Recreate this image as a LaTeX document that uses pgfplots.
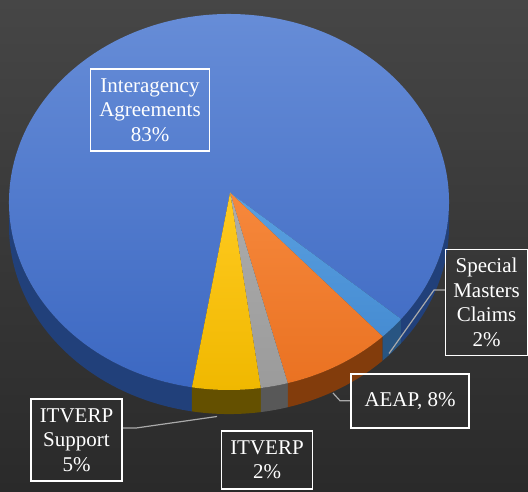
\documentclass[border=0pt]{standalone}
\usepackage{pgfplots}
\pgfplotsset{compat=1.18}
\usepackage{pgfplotstable}
\usepackage{fontspec}
\setmainfont{Liberation Serif}

\definecolor{bgtop}{RGB}{70,70,70}
\definecolor{bgmid}{RGB}{62,62,62}
\definecolor{bgbot}{RGB}{42,42,42}
\definecolor{iaT}{RGB}{104,142,216}
\definecolor{iaB}{RGB}{60,104,194}
\definecolor{iaS}{RGB}{33,64,122}
\definecolor{smT}{RGB}{90,160,224}
\definecolor{smB}{RGB}{70,140,210}
\definecolor{smS}{RGB}{40,85,130}
\definecolor{aeT}{RGB}{246,136,60}
\definecolor{aeB}{RGB}{234,114,34}
\definecolor{aeS}{RGB}{130,60,12}
\definecolor{itT}{RGB}{172,172,172}
\definecolor{itB}{RGB}{155,155,155}
\definecolor{itS}{RGB}{88,88,88}
\definecolor{suT}{RGB}{255,202,32}
\definecolor{suB}{RGB}{240,184,0}
\definecolor{suS}{RGB}{100,80,0}
\definecolor{leader}{RGB}{170,170,170}

% slices in clockwise order starting at the Interagency / Special Masters boundary
\pgfplotstableread{
name value
Special 2
AEAP 8
ITVERP 2
Support 5
Interagency 83
}\piedata

\newcommand\slice[4]{% start, end, top color, bottom color
  \path[top color=#3,bottom color=#4] (axis cs:0.005,0.05) -- (axis cs:{cos(#1)},{sin(#1)})
    arc[start angle=#1,end angle=#2,x radius=220pt,y radius=188pt] -- cycle;}
\newcommand\side[3]{% start, end, colour
  \fill[#3] (axis cs:{cos(#1)},{sin(#1)})
    arc[start angle=#1,end angle=#2,x radius=220pt,y radius=188pt]
    -- (axis cs:{cos(#2)},{sin(#2)-0.128})
    arc[start angle=#2,end angle=#1,x radius=220pt,y radius=188pt] -- cycle;}

\begin{document}
\begin{tikzpicture}
\shade[top color=bgtop,middle color=bgmid,bottom color=bgbot] (0,0) rectangle (528pt,491pt);
\pgfplotstablegetelem{0}{value}\of\piedata \let\vA\pgfplotsretval
\pgfplotstablegetelem{1}{value}\of\piedata \let\vB\pgfplotsretval
\pgfplotstablegetelem{2}{value}\of\piedata \let\vC\pgfplotsretval
\pgfplotstablegetelem{3}{value}\of\piedata \let\vD\pgfplotsretval
\pgfplotstablegetelem{4}{value}\of\piedata \let\vE\pgfplotsretval
\pgfmathsetmacro\tA{-38.5}
\pgfmathsetmacro\tB{\tA-3.6*\vA}
\pgfmathsetmacro\tC{\tB-3.6*\vB}
\pgfmathsetmacro\tD{\tC-3.6*\vC}
\pgfmathsetmacro\tE{\tD-3.6*\vD}
\pgfmathsetmacro\tF{\tE-3.6*\vE}
\begin{axis}[scale only axis, width=528pt, height=491pt,
  xmin=-1.040909, xmax=1.359091, ymin=-1.537234, ymax=1.074468,
  hide axis, clip=false]
% front side of the disc
\side{-180}{\tE}{iaS}
\side{\tE}{\tD}{suS}
\side{\tD}{\tC}{itS}
\side{\tC}{\tB}{aeS}
\side{\tB}{\tA}{smS}
\side{\tA}{0}{iaS}
% top surface
\slice{\tE}{\tF}{iaT}{iaB}
\slice{\tA}{\tB}{smT}{smB}
\slice{\tB}{\tC}{aeT}{aeB}
\slice{\tC}{\tD}{itT}{itB}
\slice{\tD}{\tE}{suT}{suB}
\end{axis}
\begin{scope}[x=1pt,y=-1pt,shift={(0,491pt)}]
\tikzset{lbl/.style={draw=white,line width=1.4pt,text=white,align=center,
  font=\fontsize{21}{24.5}\selectfont,inner sep=0pt}}
\draw[leader,line width=1.2pt] (445,290) -- (434,290) -- (389,353.5);
\draw[leader,line width=1.2pt] (351,400.7) -- (340,400.7) -- (333,393);
\draw[leader,line width=1.2pt] (122,428) -- (136,428) -- (217,416.5);
\node[lbl,minimum width=119pt,minimum height=82pt] at (150,110) {Interagency\\Agreements\\83\%};
\node[lbl,minimum width=82pt,minimum height=106pt] at (486.5,302.5) {Special\\Masters\\Claims\\2\%};
\node[lbl,minimum width=118pt,minimum height=54pt] at (410,401) {AEAP, 8\%};
\node[lbl,minimum width=91pt,minimum height=58pt] at (267,460) {ITVERP\\2\%};
\node[lbl,minimum width=91pt,minimum height=82pt] at (76.5,440) {ITVERP\\Support\\5\%};
\end{scope}
\pgfresetboundingbox
\useasboundingbox (0,0) rectangle (528pt,491pt);
\end{tikzpicture}
\end{document}
